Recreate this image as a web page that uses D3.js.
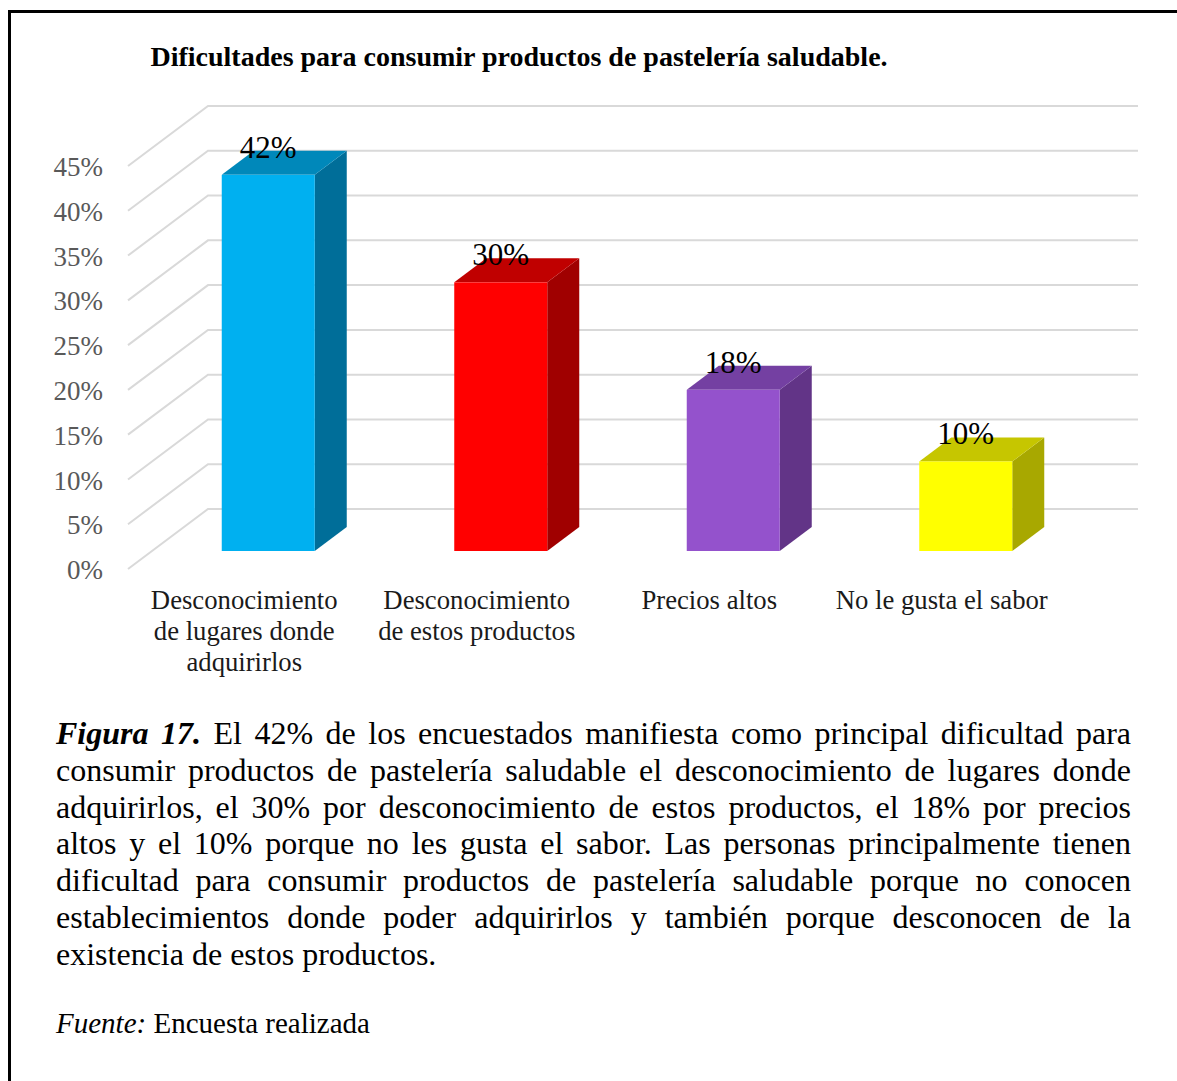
<!DOCTYPE html>
<html><head><meta charset="utf-8">
<script src="https://cdn.jsdelivr.net/npm/d3@7"></script>
<style>body{margin:0;background:#fff} svg{display:block}</style>
</head><body>
<svg id="c" width="1177" height="1081"></svg>
<script>
// ---- data ----
const chartTitle = "Dificultades para consumir productos de pastelería saludable.";
const categories = ["Desconocimiento de lugares donde adquirirlos", "Desconocimiento de estos productos", "Precios altos", "No le gusta el sabor"];
const categoryLines = [["Desconocimiento", "de lugares donde", "adquirirlos"], ["Desconocimiento", "de estos productos"], ["Precios altos"], ["No le gusta el sabor"]];
const values = [42, 30, 18, 10];
const tickValues = [0, 5, 10, 15, 20, 25, 30, 35, 40, 45];
const frontColors = ["#00B0F0", "#FF0000", "#9452CC", "#FFFF00"];
const topColors = ["#0088BA", "#C00000", "#7440A2", "#C6C600"];
const sideColors = ["#006E99", "#A00000", "#623487", "#A8A800"];
const captionLead = "Figura 17.";
const captionLines = [
  "El 42% de los encuestados manifiesta como principal dificultad para",
  "consumir productos de pastelería saludable el desconocimiento de lugares donde",
  "adquirirlos, el 30% por desconocimiento de estos productos, el 18% por precios",
  "altos y el 10% porque no les gusta el sabor. Las personas principalmente tienen",
  "dificultad para consumir productos de pastelería saludable porque no conocen",
  "establecimientos donde poder adquirirlos y también porque desconocen de la",
  "existencia de estos productos."
];
const sourceLabel = "Fuente:";
const sourceText = "Encuesta realizada";

// ---- layout ----
const serif = "'Liberation Serif','Times New Roman',serif";
const svg = d3.select("#c");
const plot = {x0: 128, x1: 1058, dx: 80, dy: -60};
const depthFront = 0.3, depthBar = 0.4;

// frame lines (left and top)
svg.append("path").attr("d", "M9.5,1081V11.5H1177")
  .attr("fill", "none").attr("stroke", "#000").attr("stroke-width", 3);

// title
svg.append("text").attr("x", 519).attr("y", 66).attr("text-anchor", "middle")
  .attr("font-family", serif).attr("font-weight", "bold").attr("font-size", 28)
  .text(chartTitle);

const y = d3.scaleLinear().domain([0, 45]).range([569, 166]);
const x = d3.scaleBand().domain(categories).range([plot.x0, plot.x1])
  .paddingInner(0.6).paddingOuter(0.3);

// floor/back-wall gridlines drawn in oblique projection
svg.append("g").selectAll("path").data(tickValues).join("path")
  .attr("d", v => `M${plot.x0},${y(v)}L${plot.x0 + plot.dx},${y(v) + plot.dy}H${plot.x1 + plot.dx}`)
  .attr("fill", "none").attr("stroke", "#d9d9d9").attr("stroke-width", 2);

// value axis
const axis = svg.append("g").attr("transform", `translate(${plot.x0},1)`)
  .call(d3.axisLeft(y).tickValues(tickValues).tickSize(0).tickPadding(25).tickFormat(d => d + "%"));
axis.select(".domain").remove();
axis.selectAll("text").attr("font-family", serif).attr("font-size", 27).attr("fill", "#595959");

// 3D bars
const bw = x.bandwidth();
const bars = svg.append("g");
categories.forEach((c, i) => {
  const v = values[i];
  const fx = x(c) + depthFront * plot.dx;
  const fy = y(v) + depthFront * plot.dy;
  const fb = y(0) + depthFront * plot.dy;
  const ox = depthBar * plot.dx, oy = depthBar * plot.dy;
  const g = bars.append("g");
  g.append("path").attr("fill", sideColors[i])
    .attr("d", `M${fx + bw},${fy}L${fx + bw + ox},${fy + oy}L${fx + bw + ox},${fb + oy}L${fx + bw},${fb}Z`);
  g.append("path").attr("fill", topColors[i])
    .attr("d", `M${fx},${fy}L${fx + bw},${fy}L${fx + bw + ox},${fy + oy}L${fx + ox},${fy + oy}Z`);
  g.append("rect").attr("x", fx).attr("y", fy).attr("width", bw).attr("height", fb - fy)
    .attr("fill", frontColors[i]);
  g.append("text").attr("x", fx + bw / 2).attr("y", fy - 17).attr("text-anchor", "middle")
    .attr("font-family", serif).attr("font-size", 31).attr("fill", "#000")
    .text(v + "%");
});

// category labels
const catG = svg.append("g");
categories.forEach((c, i) => {
  const t = catG.append("text").attr("text-anchor", "middle")
    .attr("font-family", serif).attr("font-size", 26.7).attr("fill", "#1a1a1a");
  categoryLines[i].forEach((ln, k) => {
    t.append("tspan").attr("x", x(c) + bw / 2).attr("y", 609 + k * 31).text(ln);
  });
});

// caption paragraph, justified between left and right margins
const capLeft = 56, capRight = 1131, capTop = 744, capStep = 36.8, capSize = 32;
const capG = svg.append("g").attr("font-family", serif).attr("font-size", capSize).attr("fill", "#000");
captionLines.forEach((line, li) => {
  let words = line.split(" ").map(w => ({t: w, lead: false}));
  if (li === 0) words = captionLead.split(" ").map(w => ({t: w, lead: true})).concat(words);
  const by = capTop + li * capStep;
  const nodes = words.map(w => {
    const n = capG.append("text").attr("y", by).text(w.t);
    if (w.lead) n.attr("font-weight", "bold").attr("font-style", "italic");
    return n;
  });
  const widths = nodes.map(n => n.node().getComputedTextLength());
  const total = d3.sum(widths);
  const last = li === captionLines.length - 1;
  const gap = last ? capSize * 0.25 : (capRight - capLeft - total) / (words.length - 1);
  let cx = capLeft;
  nodes.forEach((n, k) => { n.attr("x", cx); cx += widths[k] + gap; });
});

// source line
const src = svg.append("text").attr("x", 56).attr("y", 1033)
  .attr("font-family", serif).attr("font-size", 29).attr("fill", "#000");
src.append("tspan").attr("font-style", "italic").text(sourceLabel);
src.append("tspan").text(" " + sourceText);
</script>
</body></html>
